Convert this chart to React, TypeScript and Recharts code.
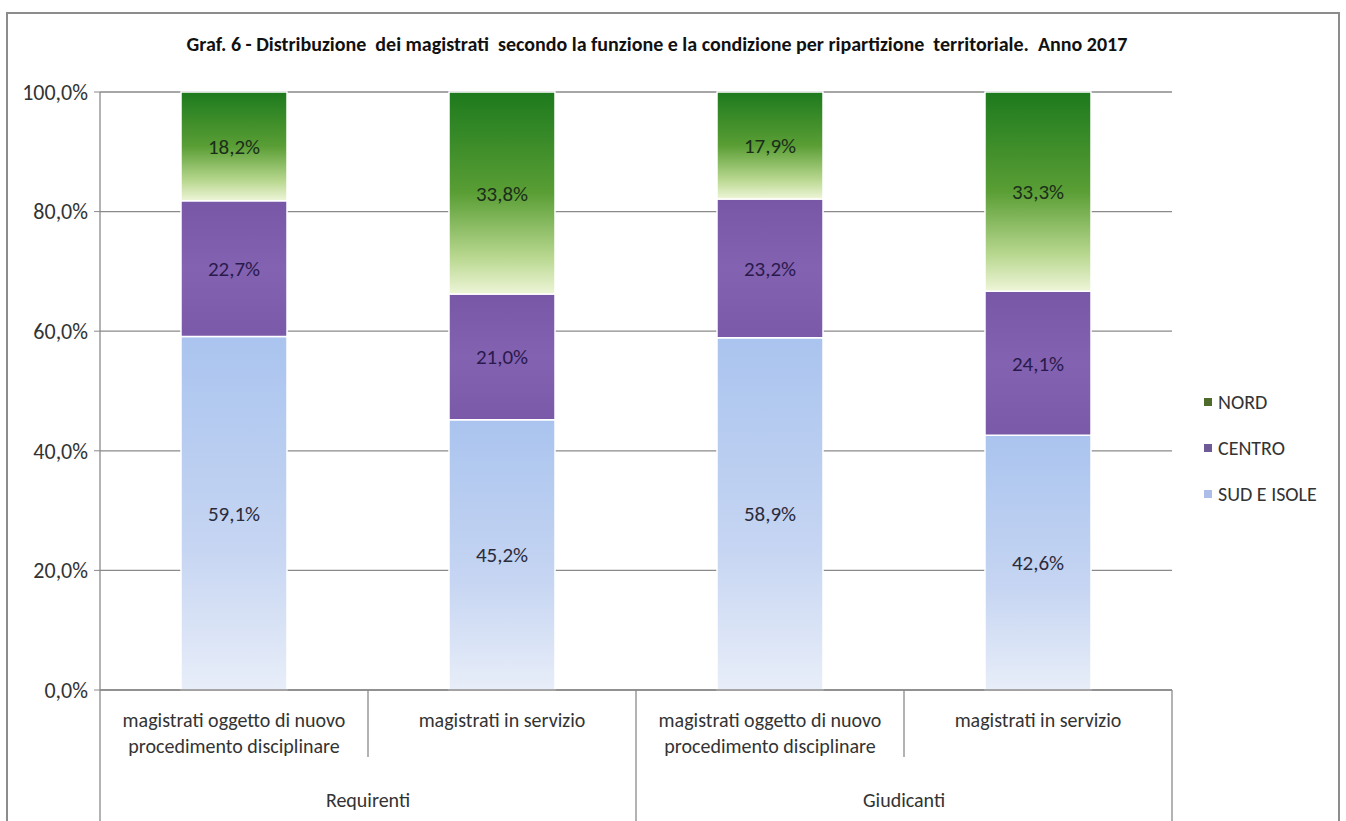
import React from "react";
import { BarChart, Bar, XAxis, YAxis, CartesianGrid, LabelList } from "recharts";

const categories = [
  "magistrati oggetto di nuovo procedimento disciplinare",
  "magistrati in servizio",
  "magistrati oggetto di nuovo procedimento disciplinare",
  "magistrati in servizio",
];
const groups = ["Requirenti", "Requirenti", "Giudicanti", "Giudicanti"];
const sud = [59.1, 45.2, 58.9, 42.6];
const centro = [22.7, 21.0, 23.2, 24.1];
const nord = [18.2, 33.8, 17.9, 33.3];
const yTicks = [0, 20, 40, 60, 80, 100];

const data = categories.map((c, i) => ({
  key: `${groups[i]}-${i}`,
  cat: c,
  group: groups[i],
  sud: sud[i],
  centro: centro[i],
  nord: nord[i],
}));

const FONT = "Carlito, 'Liberation Sans Narrow', 'DejaVu Sans Condensed', 'Open Sans', sans-serif";
const W = 1346;
const H = 821;
const M = { top: 92, right: 174, bottom: 0, left: 10 };
const Y_W = 90;
const HALF_BAND = (W - M.left - Y_W - M.right) / categories.length / 2;

const pct = (v: number) => v.toFixed(1).replace(".", ",") + "%";

const splitLabel = (s: string) =>
  s === "magistrati in servizio"
    ? [s]
    : ["magistrati oggetto di nuovo", "procedimento disciplinare"];

const CatTick = (props: any) => {
  const { x, y, payload, index } = props;
  const lines = splitLabel(payload.value);
  const leftLong = index % 2 === 0;
  return (
    <g>
      <line
        x1={x - HALF_BAND}
        x2={x - HALF_BAND}
        y1={y}
        y2={leftLong ? H + 10 : y + 67}
        stroke="#8a8a8a"
        strokeWidth={1.3}
      />
      {index === categories.length - 1 && (
        <line x1={x + HALF_BAND} x2={x + HALF_BAND} y1={y} y2={H + 10} stroke="#8a8a8a" strokeWidth={1.3} />
      )}
      {lines.map((l, k) => (
        <text key={k} x={x} y={y + 37 + k * 26} textAnchor="middle" fill="#333" fontSize={20} fontFamily={FONT}>
          {l}
        </text>
      ))}
      {leftLong && (
        <text x={x + HALF_BAND} y={y + 117} textAnchor="middle" fill="#333" fontSize={20} fontFamily={FONT}>
          {groups[index]}
        </text>
      )}
    </g>
  );
};

const legendItems = [
  { name: "NORD", color: "#4f6b2c" },
  { name: "CENTRO", color: "#6d5a96" },
  { name: "SUD E ISOLE", color: "#aebce8" },
];

export default function App() {
  return (
    <div style={{ position: "absolute", left: 0, top: 0, width: W, height: H, overflow: "hidden", background: "#fff" }}>
      <div
        style={{
          position: "absolute",
          left: 6,
          top: 12,
          width: 1334,
          height: 830,
          border: "2px solid #8c8c8c",
          boxSizing: "border-box",
        }}
      />
      <div
        style={{
          position: "absolute",
          left: 0,
          width: 1314,
          top: 32,
          textAlign: "center",
          fontFamily: FONT,
          fontWeight: "bold",
          fontSize: 20,
          color: "#111",
          whiteSpace: "pre",
        }}
      >
        {"Graf. 6 - Distribuzione  dei magistrati  secondo la funzione e la condizione per ripartizione  territoriale.  Anno 2017"}
      </div>
      <BarChart width={W} height={H} data={data} margin={M} barSize={106} style={{ position: "absolute", left: 0, top: 0 }}>
        <defs>
          <linearGradient id="gNord" x1="0" y1="0" x2="0" y2="1">
            <stop offset="0%" stopColor="#1d7a1d" />
            <stop offset="50%" stopColor="#5a9e35" />
            <stop offset="82%" stopColor="#b9d890" />
            <stop offset="100%" stopColor="#eef5d8" />
          </linearGradient>
          <linearGradient id="gCentro" x1="0" y1="0" x2="0" y2="1">
            <stop offset="0%" stopColor="#7757a6" />
            <stop offset="50%" stopColor="#8362b2" />
            <stop offset="100%" stopColor="#7a5aa8" />
          </linearGradient>
          <linearGradient id="gSud" x1="0" y1="0" x2="0" y2="1">
            <stop offset="0%" stopColor="#aac4ef" />
            <stop offset="60%" stopColor="#c6d5f2" />
            <stop offset="100%" stopColor="#e8eef9" />
          </linearGradient>
        </defs>
        <CartesianGrid vertical={false} stroke="#8a8a8a" strokeWidth={1.3} />
        <XAxis
          dataKey="cat"
          interval={0}
          tickLine={false}
          tickSize={0}
          tickMargin={0}
          height={131}
          axisLine={{ stroke: "#8a8a8a", strokeWidth: 1.3 }}
          tick={<CatTick />}
        />
        <YAxis
          width={Y_W}
          domain={[0, 100]}
          ticks={yTicks}
          tickFormatter={pct}
          tickSize={6}
          tickMargin={6}
          axisLine={{ stroke: "#8a8a8a", strokeWidth: 1.3 }}
          tickLine={{ stroke: "#8a8a8a" }}
          tick={{ fill: "#333", fontSize: 22, fontFamily: FONT }}
        />
        <Bar dataKey="sud" stackId="a" fill="url(#gSud)" stroke="#fff" strokeWidth={1.5} isAnimationActive={false}>
          <LabelList dataKey="sud" position="center" formatter={(v: any) => pct(Number(v))} fill="#2b2b3a" fontSize={21} fontFamily={FONT} />
        </Bar>
        <Bar dataKey="centro" stackId="a" fill="url(#gCentro)" stroke="#fff" strokeWidth={1.5} isAnimationActive={false}>
          <LabelList dataKey="centro" position="center" formatter={(v: any) => pct(Number(v))} fill="#2a1a4c" fontSize={21} fontFamily={FONT} />
        </Bar>
        <Bar dataKey="nord" stackId="a" fill="url(#gNord)" stroke="#fff" strokeWidth={1.5} isAnimationActive={false}>
          <LabelList dataKey="nord" position="center" formatter={(v: any) => pct(Number(v))} fill="#1a2e1a" fontSize={21} fontFamily={FONT} />
        </Bar>
      </BarChart>
      <div style={{ position: "absolute", left: 1204, top: 390, fontFamily: FONT, fontSize: 20, color: "#333" }}>
        {legendItems.map((it) => (
          <div key={it.name} style={{ display: "flex", alignItems: "center", height: 24, marginBottom: 22 }}>
            <span style={{ display: "inline-block", width: 8, height: 8, background: it.color, marginRight: 6 }} />
            {it.name}
          </div>
        ))}
      </div>
    </div>
  );
}
